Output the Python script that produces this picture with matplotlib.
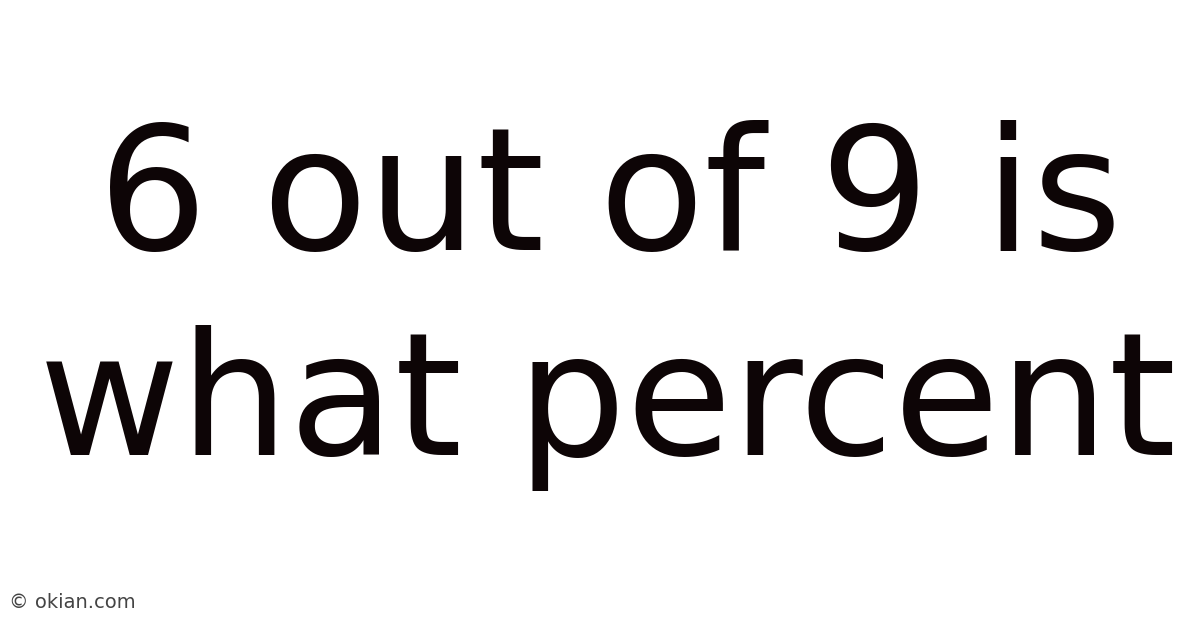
import matplotlib
matplotlib.use("Agg")
import matplotlib.pyplot as plt

lines = ["6 out of 9 is", "what percent"]
line_centers_x = [610, 608]
baselines_px = [250, 455]
watermark = "© okian.com"

W, H = 1200, 628
fig = plt.figure(figsize=(W / 100, H / 100), dpi=100)
fig.patch.set_facecolor("white")

for txt, cx, by in zip(lines, line_centers_x, baselines_px):
    fig.text(cx / W, 1 - by / H, txt, ha="center", va="baseline",
             fontsize=124, color="#0d0506", family="DejaVu Sans")

fig.text(9 / W, 1 - 608 / H, watermark, ha="left", va="baseline",
         fontsize=14, color="#444444", family="DejaVu Sans")

fig.savefig("out.png", dpi=100, facecolor="white")
